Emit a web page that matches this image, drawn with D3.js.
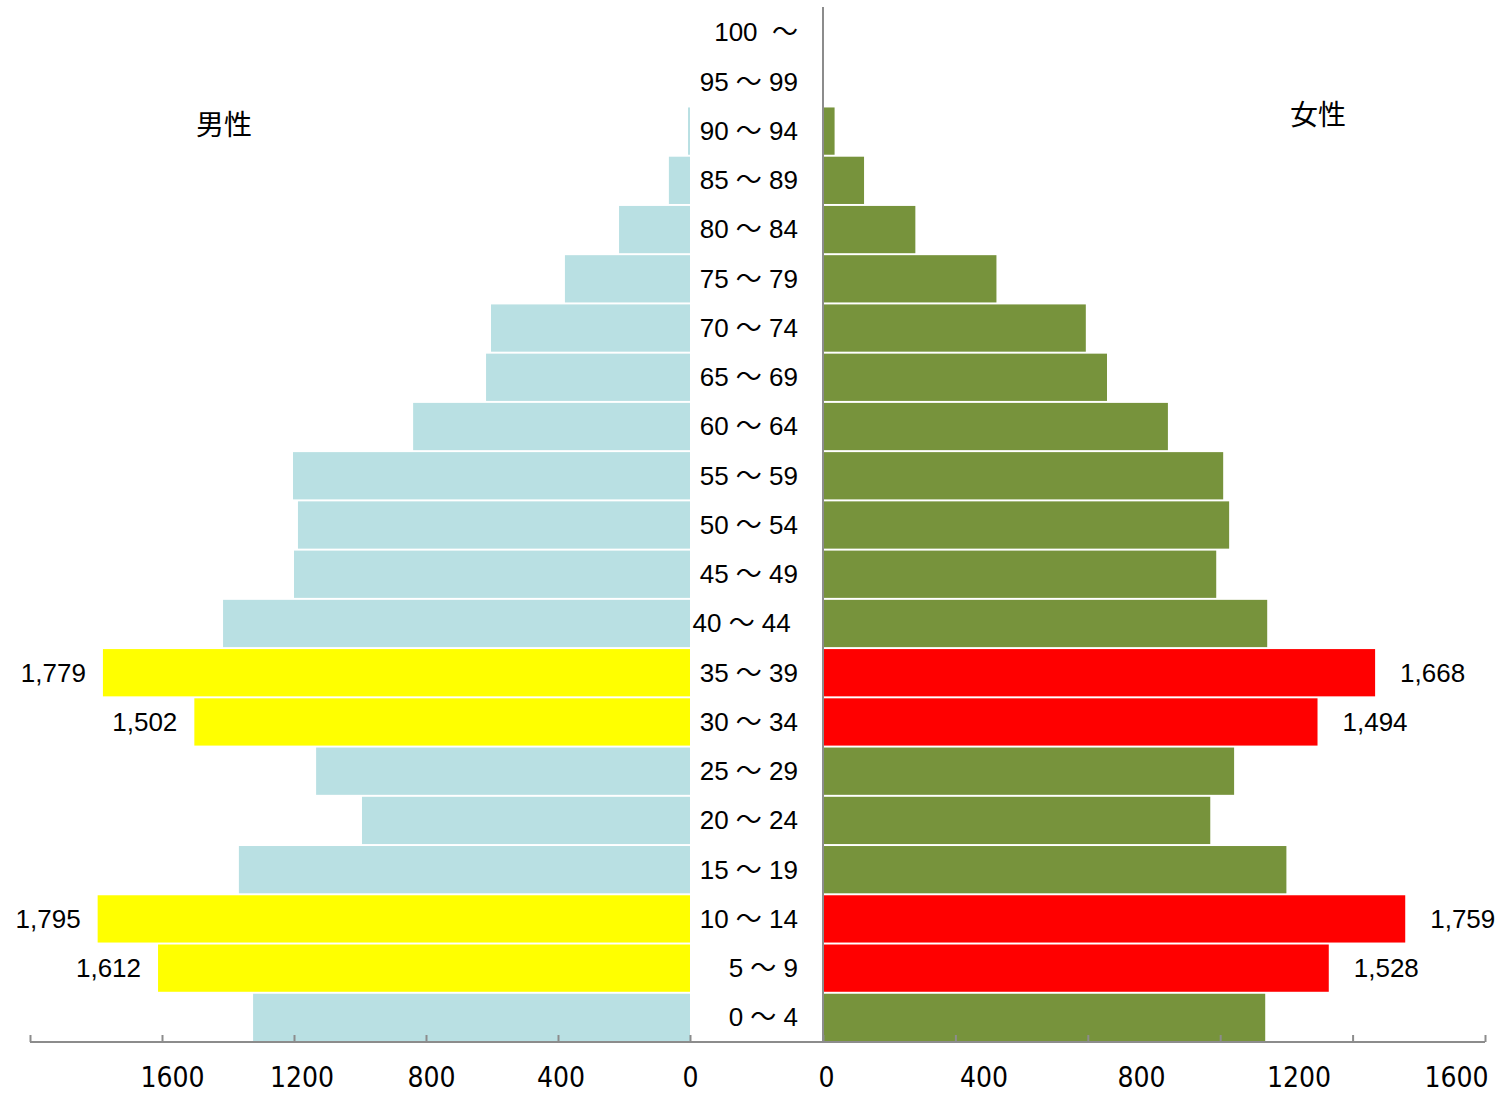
<!DOCTYPE html>
<html>
<head>
<meta charset="utf-8">
<script src="https://cdn.jsdelivr.net/npm/d3@7"></script>
<style>
  body { margin: 0; background: #fff; }
  svg { display: block; }
  .age { white-space: pre; }
</style>
</head>
<body>
<svg id="chart" width="1499" height="1095"></svg>
<script>
// Age groups, youngest first
const ageGroups = [
  "0 ～ 4", "5 ～ 9", "10 ～ 14", "15 ～ 19", "20 ～ 24", "25 ～ 29", "30 ～ 34",
  "35 ～ 39", "40 ～ 44 ", "45 ～ 49", "50 ～ 54", "55 ～ 59", "60 ～ 64", "65 ～ 69",
  "70 ～ 74", "75 ～ 79", "80 ～ 84", "85 ～ 89", "90 ～ 94", "95 ～ 99", "100  ～"
];
// Population by age group
const male = [1324, 1612, 1795, 1367, 994, 1133, 1502, 1779, 1415, 1200, 1188, 1203, 839, 618, 603, 379, 215, 64, 6, 0, 0];
const female = [1336, 1528, 1759, 1400, 1170, 1242, 1494, 1668, 1342, 1188, 1227, 1209, 1042, 858, 794, 524, 279, 124, 35, 0, 0];
// Groups emphasised and labelled with their value
const highlighted = ["5 ～ 9", "10 ～ 14", "30 ～ 34", "35 ～ 39"];
const tickValues = [0, 400, 800, 1200, 1600, 2000];
const tickLabels = [0, 400, 800, 1200, 1600];
const sideTitles = ["男性", "女性"];

const svg = d3.select("#chart");
const fmt = d3.format(",");

const baseY = 1042, topY = 8;
const y = d3.scaleBand().domain(ageGroups).range([baseY, topY]).paddingInner(0.04).paddingOuter(0.02);
const xL = d3.scaleLinear().domain([0, 2000]).range([690, 30]);
const xR = d3.scaleLinear().domain([0, 2000]).range([823, 1485]);
// Tick label positions along each bottom axis
const labL = d3.scaleLinear().domain([0, 1600]).range([690, 172]);
const labR = d3.scaleLinear().domain([0, 1600]).range([826, 1456]);

const isHi = g => highlighted.includes(g);
const rows = ageGroups.map((g, i) => ({ g, m: male[i], f: female[i] }));

// Male bars (left)
svg.append("g").selectAll("rect").data(rows).join("rect")
  .attr("x", d => xL(d.m))
  .attr("y", d => y(d.g))
  .attr("width", d => xL(0) - xL(d.m))
  .attr("height", y.bandwidth())
  .attr("fill", d => isHi(d.g) ? "#FFFF00" : "#B9E0E3");

// Female bars (right)
svg.append("g").selectAll("rect").data(rows).join("rect")
  .attr("x", xR(0) + 1)
  .attr("y", d => y(d.g))
  .attr("width", d => Math.max(0, xR(d.f) - xR(0) - 1))
  .attr("height", y.bandwidth())
  .attr("fill", d => isHi(d.g) ? "#FF0000" : "#77933C");

// Value labels on emphasised rows
const hiRows = rows.filter(d => isHi(d.g));
svg.append("g").selectAll("text").data(hiRows).join("text")
  .attr("x", d => xL(d.m) - 17)
  .attr("y", d => y(d.g) + y.bandwidth() / 2)
  .attr("dy", "0.35em")
  .attr("text-anchor", "end")
  .attr("font-family", "'Liberation Sans', Arial, sans-serif")
  .attr("font-size", 26)
  .attr("fill", "#000")
  .text(d => fmt(d.m));
svg.append("g").selectAll("text").data(hiRows).join("text")
  .attr("x", d => xR(d.f) + 25)
  .attr("y", d => y(d.g) + y.bandwidth() / 2)
  .attr("dy", "0.35em")
  .attr("text-anchor", "start")
  .attr("font-family", "'Liberation Sans', Arial, sans-serif")
  .attr("font-size", 26)
  .attr("fill", "#000")
  .text(d => fmt(d.f));

// Age group labels in the centre column
svg.append("g").selectAll("text").data(ageGroups).join("text")
  .attr("class", "age")
  .attr("x", 798)
  .attr("y", g => y(g) + y.bandwidth() / 2)
  .attr("dy", "0.34em")
  .attr("text-anchor", "end")
  .attr("font-family", "'Liberation Sans', Arial, 'Noto Sans CJK JP', sans-serif")
  .attr("font-size", 26)
  .attr("fill", "#000")
  .text(g => g);

// Vertical axis line for the female side
svg.append("line")
  .attr("x1", 823).attr("x2", 823)
  .attr("y1", 7).attr("y2", baseY)
  .attr("stroke", "#8C8C8C").attr("stroke-width", 2);

// Baseline across the full width
svg.append("line")
  .attr("x1", xL(2000)).attr("x2", xR(2000))
  .attr("y1", baseY).attr("y2", baseY)
  .attr("stroke", "#8C8C8C").attr("stroke-width", 2);

// Tick marks
const tickAxis = s => d3.axisBottom(s).tickValues(tickValues).tickSize(-7).tickSizeOuter(0).tickFormat("");
[xL, xR].forEach(s => {
  const g = svg.append("g").attr("transform", `translate(0,${baseY})`).call(tickAxis(s));
  g.select(".domain").remove();
  g.selectAll(".tick line").attr("stroke", "#8C8C8C").attr("stroke-width", 2);
});

// Tick labels
[labL, labR].forEach(s => {
  const g = svg.append("g").attr("transform", `translate(0,${baseY})`)
    .call(d3.axisBottom(s).tickValues(tickLabels).tickSize(0).tickPadding(0).tickFormat(d3.format("d")));
  g.select(".domain").remove();
  g.selectAll(".tick line").remove();
  g.selectAll(".tick text")
    .attr("y", 45)
    .attr("dy", 0)
    .attr("font-family", "'Liberation Sans Narrow', 'Arial Narrow', 'DejaVu Sans Condensed', sans-serif")
    .attr("font-size", 28)
    .attr("fill", "#000");
});

// Side titles
svg.append("text")
  .attr("x", 224).attr("y", 125).attr("dy", "0.35em")
  .attr("text-anchor", "middle")
  .attr("font-family", "'Noto Sans CJK JP', sans-serif")
  .attr("font-size", 28).attr("fill", "#000")
  .text(sideTitles[0]);
svg.append("text")
  .attr("x", 1318).attr("y", 115).attr("dy", "0.35em")
  .attr("text-anchor", "middle")
  .attr("font-family", "'Noto Sans CJK JP', sans-serif")
  .attr("font-size", 28).attr("fill", "#000")
  .text(sideTitles[1]);
</script>
</body>
</html>
